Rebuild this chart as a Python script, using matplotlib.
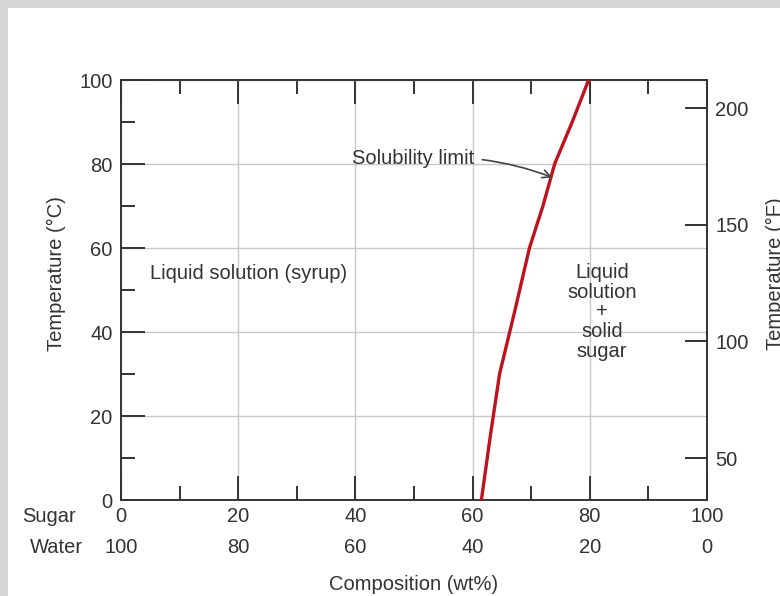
import matplotlib
matplotlib.use('Agg')
import matplotlib.pyplot as plt
from matplotlib.patches import Rectangle
from matplotlib.transforms import blended_transform_factory
from matplotlib.ticker import MultipleLocator

# solubility limit of sugar in water
sugar_wt = [61.5, 63.0, 64.6, 67.2, 69.7, 72.0, 74.0, 77.0, 79.8]
temp_c = [0, 15, 30, 45, 60, 70, 80, 90, 100]

sugar_ticks = [0, 20, 40, 60, 80, 100]
water_ticks = [100, 80, 60, 40, 20, 0]
temp_f_ticks = [50, 100, 150, 200]

plt.rcParams['font.family'] = ['Liberation Sans', 'DejaVu Sans']
dark = '#333333'
lab = 14.5
num = 14.5

fig = plt.figure(figsize=(7.8, 5.96), dpi=100, facecolor='#d6d6d6')
# white panel on the grey stone background
fig.add_artist(Rectangle((8 / 780, 0), 1, 1 - 8 / 596, transform=fig.transFigure,
                         facecolor='white', edgecolor='none', zorder=-10))

ax = fig.add_axes([121 / 780, 96 / 596, 586 / 780, 420 / 596])
ax.set_xlim(0, 100)
ax.set_ylim(0, 100)
ax.set_facecolor('white')

for s in ax.spines.values():
    s.set_color(dark)
    s.set_linewidth(1.4)

ax.xaxis.set_major_locator(MultipleLocator(20))
ax.xaxis.set_minor_locator(MultipleLocator(10))
ax.yaxis.set_major_locator(MultipleLocator(20))
ax.yaxis.set_minor_locator(MultipleLocator(10))
ax.tick_params(which='both', direction='in', top=True, right=False, color=dark, width=1.4)
ax.tick_params(which='major', length=17)
ax.tick_params(which='minor', length=10)
ax.tick_params(axis='y', labelsize=num, labelcolor=dark, pad=6)
ax.set_yticks([0, 20, 40, 60, 80, 100])
ax.set_xticklabels([])
ax.grid(True, which='major', color='#c8c8c8', linewidth=1)
ax.set_axisbelow(True)

ax.plot(sugar_wt, temp_c, color='#c0121c', linewidth=2.4, zorder=3)

# sugar / water composition labels under the axis
trans = blended_transform_factory(ax.transData, ax.transAxes)
for s_val, w_val in zip(sugar_ticks, water_ticks):
    ax.text(s_val, -0.04, str(s_val), transform=trans, ha='center', va='center',
            fontsize=num, color=dark)
    ax.text(s_val, -0.112, str(w_val), transform=trans, ha='center', va='center',
            fontsize=num, color=dark)
ax.text(-0.122, -0.04, 'Sugar', transform=ax.transAxes, ha='center', va='center',
        fontsize=lab, color=dark)
ax.text(-0.11, -0.112, 'Water', transform=ax.transAxes, ha='center', va='center',
        fontsize=lab, color=dark)
ax.text(0.5, -0.2, 'Composition (wt%)', transform=ax.transAxes, ha='center', va='center',
        fontsize=lab, color=dark)

ax.set_ylabel('Temperature (°C)', fontsize=lab, color=dark)
ax.yaxis.set_label_coords(-0.094, 0.538)

ax.text(4.9, 54, 'Liquid solution (syrup)', ha='left', va='center',
        fontsize=lab, color=dark)
ax.text(82.1, 44.8, 'Liquid\nsolution\n+\nsolid\nsugar', ha='center', va='center',
        fontsize=lab, color=dark, linespacing=1.05)

ax.annotate('Solubility limit', xy=(73.6, 76.8), xytext=(49.8, 81.2),
            ha='center', va='center', fontsize=lab, color=dark,
            arrowprops=dict(arrowstyle='->', color='#444444', lw=1.2,
                            connectionstyle='arc3,rad=-0.12', shrinkA=4, shrinkB=0))

# Fahrenheit scale on the right
ax2 = ax.twinx()
ax2.set_ylim(32, 212)
ax2.set_yticks(temp_f_ticks)
ax2.tick_params(axis='y', direction='in', length=16, width=1.4, color=dark,
                labelsize=num, labelcolor=dark, pad=6)
for s in ax2.spines.values():
    s.set_visible(False)
ax2.set_ylabel('Temperature (°F)', fontsize=lab, color=dark)
ax2.yaxis.set_label_coords(1.100, 0.538)

fig.savefig('out.png', dpi=100, facecolor=fig.get_facecolor())
